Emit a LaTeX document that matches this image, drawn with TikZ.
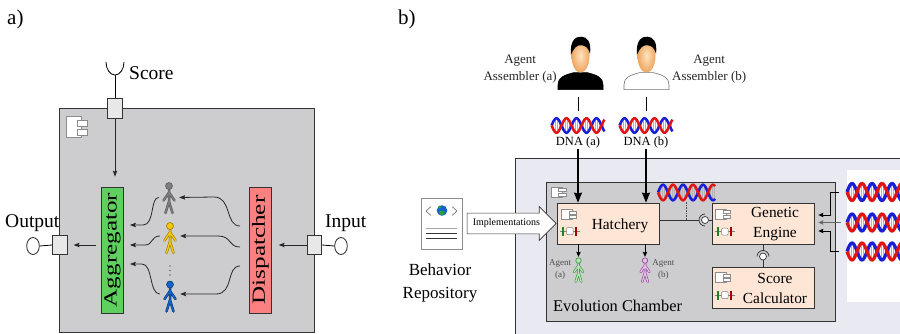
\documentclass[tikz,border=0pt]{standalone}
\usepackage{fontspec}
\setmainfont{Liberation Serif}
\usepackage{graphicx}
\usepackage{tikz}
\usetikzlibrary{arrows.meta, calc, positioning, shapes.geometric, shapes.arrows, shadows}
\usepackage{xcolor}
\definecolor{chamberbg}{RGB}{233, 233, 241}
\definecolor{boxgray}{RGB}{205, 205, 207}
\definecolor{portgray}{RGB}{232, 232, 232}
\definecolor{agggreen}{RGB}{95, 208, 95}
\definecolor{disppink}{RGB}{252, 128, 128}
\definecolor{peach}{RGB}{253, 230, 214}
\definecolor{dnablue}{RGB}{25, 30, 215}
\definecolor{dnared}{RGB}{225, 20, 20}
\definecolor{skinlight}{RGB}{255, 228, 192}
\definecolor{skindark}{RGB}{238, 165, 95}
\definecolor{agentgray}{RGB}{125, 125, 125}
\definecolor{agentyellow}{RGB}{245, 200, 0}
\definecolor{agentblue}{RGB}{20, 100, 200}
\definecolor{agentgreen}{RGB}{40, 150, 40}
\definecolor{agentpurple}{RGB}{150, 50, 160}
\definecolor{globegreen}{RGB}{40, 160, 60}

% component symbol: top-left corner, width, height
\newcommand{\compicon}[3]{%
  \begin{scope}[shift={#1}, xscale=#2, yscale=#3]
    \draw[black!45, fill=white, line width=0.7pt] (0,0) rectangle (0.72,-1);
    \draw[black!45, fill=white, line width=0.5pt] (0.48,-0.16) rectangle (1,-0.44);
    \draw[black!45, fill=white, line width=0.5pt] (0.48,-0.61) rectangle (1,-0.89);
  \end{scope}}
% provided/required port symbol, left end
\newcommand{\porticon}[1]{%
  \begin{scope}[shift={#1}]
    \draw[black!50, line width=0.6pt] (0,0) -- (20,0);
    \fill[agentgreen!85!black] (2.5,-4.5) rectangle (4.5,4.5);
    \draw[black!50, fill=white, rounded corners=1pt, line width=0.5pt] (7,-3.5) rectangle (13.5,3.5);
    \fill[red!65!black] (15.5,-4.5) rectangle (17.5,4.5);
  \end{scope}}
% stick figure: centre, outline, body, size
\newcommand{\agentfig}[4]{%
  \begin{scope}[shift={#1}, scale=#4]
    \draw[#2, double=#3, double distance=1.4pt, line width=0.55pt, line cap=round, line join=round]
      (-3.5,-15.5) -- (0,-4) -- (3.5,-15.5)
      (0,-4) -- (0,8)
      (-5.5,-3) -- (0,5) -- (5.5,-3);
    \draw[#2, fill=#3, line width=0.55pt] (0,11.5) circle (3.5);
  \end{scope}}
% double helix: centre, length, height, strand width
\newcommand{\dna}[4]{%
  \begin{scope}[shift={#1}]
    \foreach \t in {0,2,...,#2}
      \draw[black!30, line width=0.6pt] ({\t-#2/2},{#3/2*sin(18*\t)}) -- ({\t-#2/2},{-#3/2*sin(18*\t)});
    \draw[dnablue, line width=#4] plot[domain=0:#2, samples=90, smooth] ({\x-#2/2},{#3/2*sin(18*\x)});
    \draw[dnared, line width=#4] plot[domain=0:#2, samples=90, smooth] ({\x-#2/2},{-#3/2*sin(18*\x)});
  \end{scope}}
% head and shoulders: bottom centre, shirt fill, shirt outline
\newcommand{\assembler}[3]{%
  \begin{scope}[shift={#1}]
    \draw[#3, fill=#2, line width=0.6pt] (-22.5,0) -- (-22.5,5)
      .. controls (-22.5,12) and (-17,14.5) .. (-7,17) -- (7,17)
      .. controls (17,14.5) and (22.5,12) .. (22.5,5) -- (22.5,0) -- cycle;
    \shade[inner color=skinlight, outer color=skindark] (0,34) ellipse (9 and 17);
    \fill[black] (-9.5,35) .. controls (-11,50) and (-4,53.5) .. (1,53)
      .. controls (7,53) and (11,47) .. (9.5,36)
      .. controls (8,42) and (5,44) .. (1,44.5)
      .. controls (-4,45) and (-7,41) .. (-9.5,35) -- cycle;
  \end{scope}}

\begin{document}
\begin{tikzpicture}[x=1pt, y=1pt,
  every node/.style={font=\fontsize{19.5}{22}\selectfont},
  frame/.style={draw=black!80, line width=0.9pt, inner sep=0pt},
  port/.style={draw=black!80, fill=portgray, line width=0.7pt,
               minimum width=14.5pt, minimum height=19.5pt, inner sep=0pt},
  ball/.style={draw=black!85, fill=white, ellipse, line width=0.8pt,
               minimum width=12.6pt, minimum height=17pt, inner sep=0pt},
  bar/.style={draw=black!80, line width=0.8pt, rotate=90, minimum width=126pt,
              minimum height=21.5pt, inner sep=0pt, font=\fontsize{18.5}{20}\selectfont},
  fig/.style={minimum width=20pt, minimum height=32pt, inner sep=0pt},
  arr/.style={-{Stealth[length=6pt, width=4.5pt, inset=1.2pt]}, line width=0.8pt, black!85},
  compbox/.style={draw=black!80, fill=peach, line width=0.8pt,
                  minimum width=102pt, minimum height=41pt, inner sep=0pt},
  btext/.style={font=\fontsize{15.4}{20}\selectfont, align=center, inner sep=0pt},
  strand/.style={minimum height=18pt, inner sep=0pt},
  plug/.style={circle, draw=black!80, fill=white, minimum size=7pt, inner sep=0pt, line width=0.7pt},
  implarrow/.style={single arrow, draw=black!80, fill=white, line width=0.7pt,
                    single arrow head extend=6.5pt, minimum height=89pt,
                    inner xsep=2pt, inner ysep=5.5pt, font=\fontsize{10}{10}\selectfont},
  barr/.style={-{Stealth[length=10pt, width=8pt, inset=1pt]}, line width=1.1pt},
  sarr/.style={-{Stealth[length=5pt, width=4.5pt, inset=0.8pt]}, line width=0.7pt}
]
  \useasboundingbox (0,0) rectangle (900,-334);
  \clip (0,0) rectangle (900,-334);

  % a) the ensemble component
  \node[anchor=base west, inner sep=0pt, font=\fontsize{21}{22}\selectfont] (tagA) at (7,-25) {a)};
  \node[frame, fill=boxgray, minimum width=255pt, minimum height=224pt] (box) at (186.5,-220) {};
  \compicon{(66.7,-116.7)}{21}{20.6}

  \node[port] (sp) at (115,-108.5) {};
  \node[port] (op) at (60,-245) {};
  \node[port] (ip) at (314.5,-245) {};
  \node[ball] (outball) at (33,-246) {};
  \node[ball] (inball) at (341,-246) {};
  \draw[line width=0.8pt] (op.west) -- (outball.east);
  \draw[line width=0.8pt] (ip.east) -- (inball.west);

  \coordinate (cup) at (115,-75);
  \draw[line width=0.8pt] (sp.north) -- (cup);
  \draw[line width=0.8pt] (cup) +(-9,13) arc[start angle=180, end angle=360, x radius=9, y radius=13];

  \node[anchor=base west, inner sep=0pt] (scorelbl) at (129,-80) {Score};
  \node[anchor=base west, inner sep=0pt] (outlbl) at (5,-227) {Output};
  \node[anchor=base west, inner sep=0pt] (inlbl) at (325,-227) {Input};

  \node[bar, fill=agggreen] (agg) at (112.5,-250) {\scalebox{1.36}[1]{Aggregator}};
  \node[bar, fill=disppink] (disp) at (260.5,-250) {\scalebox{1.36}[1]{Dispatcher}};

  \node[fig] (f1) at (169,-197.5) {};
  \node[fig] (f2) at (170,-237.5) {};
  \node[fig] (f3) at (170,-296) {};
  \agentfig{(f1)}{black!65}{agentgray}{1}
  \agentfig{(f2)}{agentyellow!60!black}{agentyellow}{1}
  \agentfig{(f3)}{agentblue!55!black}{agentblue}{1}
  \foreach \d in {266,270.5,275}
    \fill[black!55] (170,-\d) circle (0.9);

  \coordinate (d1) at (240,-226);
  \coordinate (d2) at (240,-247);
  \coordinate (d3) at (240,-266);
  \coordinate (a1) at (130,-225);
  \coordinate (a2) at (130,-245);
  \coordinate (a3) at (130,-264);

  \draw[arr, shorten >=10pt] (sp.south) -- (sp.south |- agg.east);
  \draw[arr, shorten <=5pt, shorten >=6pt] (agg.north |- op) -- (op.east);
  \draw[arr, shorten >=7pt] (ip.west) -- (ip.west -| disp.south);
  \draw[arr] (d1) .. controls (225,-226) and (232,-197) .. (214,-197) -- (f1.east);
  \draw[arr] (d2) .. controls (228,-247) and (232,-236) .. (218,-236) -- (f2.east |- 0,-236);
  \draw[arr] (d3) .. controls (226,-266) and (234,-294) .. (216,-294) -- (f3.east |- 0,-294);
  \draw[arr] (f1.west) .. controls (150,-197) and (155,-225) .. (143,-225) -- (a1);
  \draw[arr] (f2.west |- 0,-236) .. controls (151,-236) and (153,-245) .. (145,-245) -- (a2);
  \draw[arr] (f3.west |- 0,-294) .. controls (149,-294) and (153,-264) .. (142,-264) -- (a3);

  % b) the evolution chamber
  \node[anchor=base west, inner sep=0pt, font=\fontsize{21}{22}\selectfont] (tagB) at (398,-25) {b)};
  \node[frame, fill=chamberbg, anchor=north west, minimum width=400pt, minimum height=190pt] (outer) at (515,-158) {};
  \fill[white] (847,-170) rectangle (905,-302);
  \node[frame, fill=boxgray, anchor=north west, minimum width=289pt, minimum height=139pt] (chamber) at (546,-182) {};
  \compicon{(551.5,-187)}{15}{10}
  \node[anchor=base west, inner sep=0pt, font=\fontsize{16.4}{18}\selectfont] (chamberlbl) at (553,-311.5) {Evolution Chamber};

  \node[minimum width=45pt, minimum height=52pt, inner sep=0pt] (asma) at (580.5,-63.5) {};
  \node[minimum width=45pt, minimum height=52pt, inner sep=0pt] (asmb) at (646.5,-63.5) {};
  \assembler{(asma.south)}{black}{black}
  \assembler{(asmb.south)}{white}{black!55}
  \node[font=\fontsize{13}{17}\selectfont, align=center, inner sep=0pt, anchor=east, text=black!85] (asmalbl) at (557,-68.7) {Agent\\Assembler (a)};
  \node[font=\fontsize{13}{17}\selectfont, align=center, inner sep=0pt, anchor=west, text=black!85] (asmblbl) at (672,-68.7) {Agent\\Assembler (b)};

  \node[strand, minimum width=53pt] (dnaa) at (578,-125.5) {};
  \node[strand, minimum width=53pt] (dnab) at (646,-125.5) {};
  \dna{(dnaa)}{53}{14.5}{2.5pt}
  \dna{(dnab)}{53}{14.5}{2.5pt}
  \node[font=\fontsize{12.5}{14}\selectfont, inner sep=1pt, below=1pt of dnaa] (dnaalbl) {DNA (a)};
  \node[font=\fontsize{12.5}{14}\selectfont, inner sep=1pt, below=1pt of dnab] (dnablbl) {DNA (b)};
  \draw[line width=0.9pt, shorten <=7pt, shorten >=5pt] (dnaa.north |- asma.south) -- (dnaa.north);
  \draw[line width=0.9pt, shorten <=7pt, shorten >=5pt] (dnab.north |- asmb.south) -- (dnab.north);

  \node[compbox] (hatch) at (608,-223.5) {};
  \node[btext] (hatchlbl) at (620,-226) {Hatchery};
  \compicon{($(hatch.north west)+(5,-7)$)}{15}{10}
  \porticon{($(hatch.north west)+(3,-28.5)$)}
  \draw[barr] (dnaalbl.south) -- (dnaalbl.south |- hatch.north);
  \draw[barr] (dnablbl.south) -- (dnablbl.south |- hatch.north);

  \node[draw=black!45, fill=white, minimum width=41pt, minimum height=51pt, inner sep=0pt,
        drop shadow={shadow xshift=1.2pt, shadow yshift=-1.2pt, fill=black!25}] (repo) at (441.5,-223.5) {};
  \draw[black!60, line width=0.6pt] (431,-206.5) -- (426,-211) -- (431,-215.5);
  \draw[black!60, line width=0.6pt] (452,-206.5) -- (457,-211) -- (452,-215.5);
  \fill[agentblue] (442,-210.5) circle (5.3);
  \fill[globegreen] (442.5,-211) .. controls (439,-209) and (438,-214) .. (441,-215.5)
    .. controls (445,-215) and (446,-211) .. (442.5,-211) -- cycle;
  \fill[globegreen] (439.5,-207.2) circle (1.5);
  \draw[black!35, line width=0.5pt] (426,-228) -- (457,-228);
  \draw[black!80, line width=0.8pt] (426,-233) -- (457,-233);
  \draw[black!80, line width=0.8pt] (426,-238) -- (457,-238);
  \node[font=\fontsize{17}{23}\selectfont, align=center, inner sep=0pt] (repolbl) at (440,-282.5) {Behavior\\Repository};
  \node[implarrow, anchor=tip] (impl) at (hatch.west) {Implementations};

  \node[minimum width=12pt, minimum height=25pt, inner sep=0pt] (aga) at (578.5,-269.5) {};
  \node[minimum width=12pt, minimum height=25pt, inner sep=0pt] (agb) at (645,-269.5) {};
  \agentfig{(aga)}{agentgreen}{agentgreen!30}{0.78}
  \agentfig{(agb)}{agentpurple}{agentpurple!30}{0.78}
  \draw[sarr] (aga |- hatch.south) -- (aga.north);
  \draw[sarr] (agb |- hatch.south) -- (agb.north);
  \node[font=\fontsize{9}{12.5}\selectfont, align=center, text=black!70, inner sep=0pt, left=1pt of aga] (agalbl) {Agent\\(a)};
  \node[font=\fontsize{9}{12.5}\selectfont, align=center, text=black!70, inner sep=0pt, right=1pt of agb] (agblbl) {Agent\\(b)};

  \node[strand, minimum width=57pt] (dnac) at (686.5,-192.5) {};
  \dna{(dnac)}{57}{15.5}{2.6pt}

  \node[compbox] (engine) at (763,-224) {};
  \node[compbox] (scorecalc) at (763,-287.5) {};
  \node[btext] (enginelbl) at (775,-224.5) {Genetic\\Engine};
  \node[btext] (calclbl) at (775,-288) {Score\\Calculator};
  \compicon{($(engine.north west)+(4,-6)$)}{15}{10}
  \porticon{($(engine.north west)+(3,-28.5)$)}
  \compicon{($(scorecalc.north west)+(4,-6)$)}{15}{10}
  \porticon{($(scorecalc.north west)+(3,-28.5)$)}

  \node[plug] (ball1) at (705,-220) {};
  \draw[line width=0.7pt, black!80] (ball1.center) ++(0,6) arc[start angle=90, end angle=270, radius=6];
  \draw[line width=0.7pt, black!80] (hatch.east |- ball1) -- ([xshift=-6pt]ball1.center);
  \draw[line width=0.7pt, black!80] (ball1.east) -- (ball1.east -| engine.west);
  \draw[densely dotted, black!70, line width=0.6pt] (dnac.south) -- (dnac.south |- ball1);

  \node[plug] (ball2) at (763,-256.5) {};
  \draw[line width=0.7pt, black!80] (ball2.center) ++(-6,0) arc[start angle=180, end angle=0, radius=6];
  \draw[line width=0.7pt, black!80] (engine.south) -- ([yshift=6pt]ball2.center);
  \draw[line width=0.7pt, black!80] (ball2.south) -- (scorecalc.north);

  \node[strand, minimum width=66pt, minimum height=20pt] (dna1) at (880,-192) {};
  \node[strand, minimum width=66pt, minimum height=20pt] (dna2) at (880,-222.5) {};
  \node[strand, minimum width=66pt, minimum height=20pt] (dna3) at (880,-251.5) {};
  \dna{(dna1)}{66}{17}{3.2pt}
  \dna{(dna2)}{66}{17}{3.2pt}
  \dna{(dna3)}{66}{17}{3.2pt}
  \draw[sarr, shorten >=4pt] ([xshift=-8pt]dna1.west) -- ++(-8,0) |- ([yshift=9pt]engine.east);
  \draw[sarr, black!60, shorten >=4pt] ([xshift=-6pt]dna2.west) -- (dna2.west -| engine.east);
  \draw[sarr, shorten >=4pt] ([xshift=-8pt]dna3.west) -- ++(-8,0) |- ([yshift=-7pt]engine.east);
\end{tikzpicture}
\end{document}
